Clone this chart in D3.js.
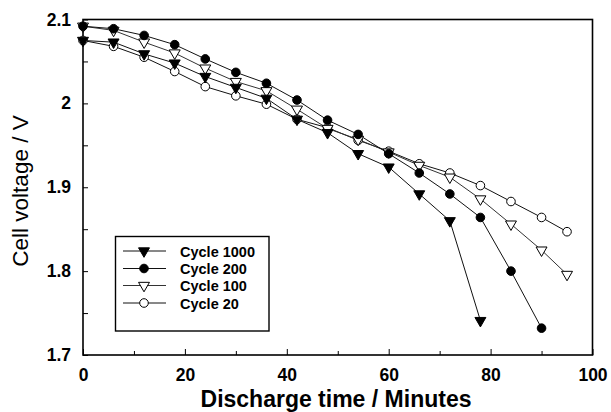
<!DOCTYPE html>
<html>
<head>
<meta charset="utf-8">
<script src="https://cdn.jsdelivr.net/npm/d3@7/dist/d3.min.js"></script>
<style>
  html, body { margin: 0; padding: 0; background: #fff; }
  svg { display: block; }
  text { font-family: "Liberation Sans", Arial, Helvetica, sans-serif; fill: #000; }
</style>
</head>
<body>
<svg id="chart" width="611" height="412"></svg>
<script>
// Discharge time (minutes) for each measured point
const timeCycle1000 = [0, 6, 12, 18, 24, 30, 36, 42, 48, 54, 60, 66, 72, 78];
const timeCycle200  = [0, 6, 12, 18, 24, 30, 36, 42, 48, 54, 60, 66, 72, 78, 84, 90];
const timeCycle100  = [0, 6, 12, 18, 24, 30, 36, 42, 48, 54, 60, 66, 72, 78, 84, 90, 95];
const timeCycle20   = [0, 6, 12, 18, 24, 30, 36, 42, 48, 54, 60, 66, 72, 78, 84, 90, 95];

// Cell voltage (V)
const voltCycle1000 = [2.075, 2.073, 2.059, 2.048, 2.032, 2.019, 2.006, 1.981, 1.965, 1.940, 1.924, 1.892, 1.860, 1.741];
const voltCycle200  = [2.092, 2.089, 2.081, 2.070, 2.053, 2.037, 2.024, 2.004, 1.980, 1.963, 1.940, 1.917, 1.892, 1.864, 1.800, 1.732];
const voltCycle100  = [2.092, 2.087, 2.073, 2.060, 2.042, 2.026, 2.015, 1.993, 1.970, 1.957, 1.942, 1.926, 1.912, 1.886, 1.856, 1.825, 1.796];
const voltCycle20   = [2.075, 2.068, 2.055, 2.038, 2.020, 2.009, 1.999, 1.981, 1.971, 1.956, 1.943, 1.928, 1.917, 1.902, 1.883, 1.864, 1.847];

const seriesNames = ["Cycle 1000", "Cycle 200", "Cycle 100", "Cycle 20"];

const xTicks = [0, 20, 40, 60, 80, 100];
const xMinorTicks = [10, 30, 50, 70, 90];
const yTicks = [1.7, 1.8, 1.9, 2.0, 2.1];
const yTickLabels = ["1.7", "1.8", "1.9", "2", "2.1"];
const yMinorTicks = [1.75, 1.85, 1.95, 2.05];

const series = [
  { name: seriesNames[0], t: timeCycle1000, v: voltCycle1000, marker: "triDown", filled: true,  stroke: "#111" },
  { name: seriesNames[1], t: timeCycle200,  v: voltCycle200,  marker: "circle",  filled: true,  stroke: "#111" },
  { name: seriesNames[2], t: timeCycle100,  v: voltCycle100,  marker: "triDown", filled: false, stroke: "#333" },
  { name: seriesNames[3], t: timeCycle20,   v: voltCycle20,   marker: "circle",  filled: false, stroke: "#111" }
];

const svg = d3.select("#chart");
const plot = { left: 83, right: 592.5, top: 19.5, bottom: 355 };

const x = d3.scaleLinear().domain([0, 100]).range([plot.left, plot.right]);
const y = d3.scaleLinear().domain([1.7, 2.1]).range([plot.bottom, plot.top]);

// Frame
svg.append("rect")
  .attr("x", plot.left).attr("y", plot.top)
  .attr("width", plot.right - plot.left).attr("height", plot.bottom - plot.top)
  .attr("fill", "none").attr("stroke", "#000").attr("stroke-width", 1.6);

// Bottom axis: inward ticks
const xAxis = d3.axisBottom(x).tickValues(xTicks).tickSizeInner(-6).tickSizeOuter(0).tickPadding(14)
  .tickFormat(d3.format("d"));
const gx = svg.append("g").attr("transform", `translate(0,${plot.bottom})`).call(xAxis);
gx.select(".domain").remove();
gx.selectAll(".tick line").attr("stroke", "#000").attr("stroke-width", 1);
gx.selectAll(".tick text")
  .attr("font-size", 17.5).attr("font-weight", "bold")
  .attr("font-family", "'Liberation Sans', Arial, sans-serif").attr("fill", "#000");

const xMinor = d3.axisBottom(x).tickValues(xMinorTicks).tickSizeInner(-4).tickSizeOuter(0).tickFormat("");
const gxm = svg.append("g").attr("transform", `translate(0,${plot.bottom})`).call(xMinor);
gxm.select(".domain").remove();
gxm.selectAll(".tick line").attr("stroke", "#000");

// Left axis: inward ticks
const yAxis = d3.axisLeft(y).tickValues(yTicks).tickSizeInner(-5).tickSizeOuter(0).tickPadding(12)
  .tickFormat((d, i) => yTickLabels[i]);
const gy = svg.append("g").attr("transform", `translate(${plot.left},0)`).call(yAxis);
gy.select(".domain").remove();
gy.selectAll(".tick line").attr("stroke", "#000");
gy.selectAll(".tick text")
  .attr("font-size", 17.5).attr("font-weight", "bold")
  .attr("font-family", "'Liberation Sans', Arial, sans-serif").attr("fill", "#000");

const yMinor = d3.axisLeft(y).tickValues(yMinorTicks).tickSizeInner(-5).tickSizeOuter(0).tickFormat("");
const gym = svg.append("g").attr("transform", `translate(${plot.left},0)`).call(yMinor);
gym.select(".domain").remove();
gym.selectAll(".tick line").attr("stroke", "#000");

// Axis titles
svg.append("text")
  .attr("x", 336).attr("y", 407)
  .attr("text-anchor", "middle")
  .attr("font-size", 23).attr("font-weight", "bold")
  .text("Discharge time / Minutes");

svg.append("text")
  .attr("transform", `translate(28,191) rotate(-90)`)
  .attr("text-anchor", "middle")
  .attr("font-size", 22.5)
  .text("Cell voltage / V");

// Marker drawing
const triPath = d3.symbol().type(d3.symbolTriangle).size(52);
function drawMarker(g, s, cx, cy) {
  if (s.marker === "circle") {
    g.append("circle").attr("cx", cx).attr("cy", cy).attr("r", 4.3)
      .attr("fill", s.filled ? "#000" : "#fff").attr("stroke", "#000").attr("stroke-width", 1);
  } else {
    g.append("path").attr("d", triPath())
      .attr("transform", `translate(${cx},${cy}) rotate(180)`)
      .attr("fill", s.filled ? "#000" : "#fff").attr("stroke", "#000").attr("stroke-width", 1);
  }
}

const line = d3.line().x(d => x(d[0])).y(d => y(d[1]));

// Lines first, then markers on top
const drawOrder = [3, 2, 1, 0];
drawOrder.forEach(i => {
  const s = series[i];
  const pts = s.t.map((t, k) => [t, s.v[k]]);
  svg.append("path").datum(pts).attr("d", line)
    .attr("fill", "none").attr("stroke", s.stroke).attr("stroke-width", 1);
});
drawOrder.forEach(i => {
  const s = series[i];
  const g = svg.append("g");
  s.t.forEach((t, k) => drawMarker(g, s, x(t), y(s.v[k])));
});

// Legend
const legend = svg.append("g");
legend.append("rect")
  .attr("x", 115.5).attr("y", 236.5).attr("width", 153.5).attr("height", 94.5)
  .attr("fill", "#fff").attr("stroke", "#000").attr("stroke-width", 1.4);
const rowY = [251, 268.5, 285.5, 303];
series.forEach((s, i) => {
  const ry = rowY[i];
  legend.append("line").attr("x1", 123).attr("x2", 166).attr("y1", ry).attr("y2", ry)
    .attr("stroke", s.stroke).attr("stroke-width", 1);
  drawMarker(legend, s, 144, ry);
  legend.append("text").attr("x", 180).attr("y", ry + 5.5)
    .attr("font-size", 14.5).attr("font-weight", "bold")
    .text(s.name);
});
</script>
</body>
</html>
